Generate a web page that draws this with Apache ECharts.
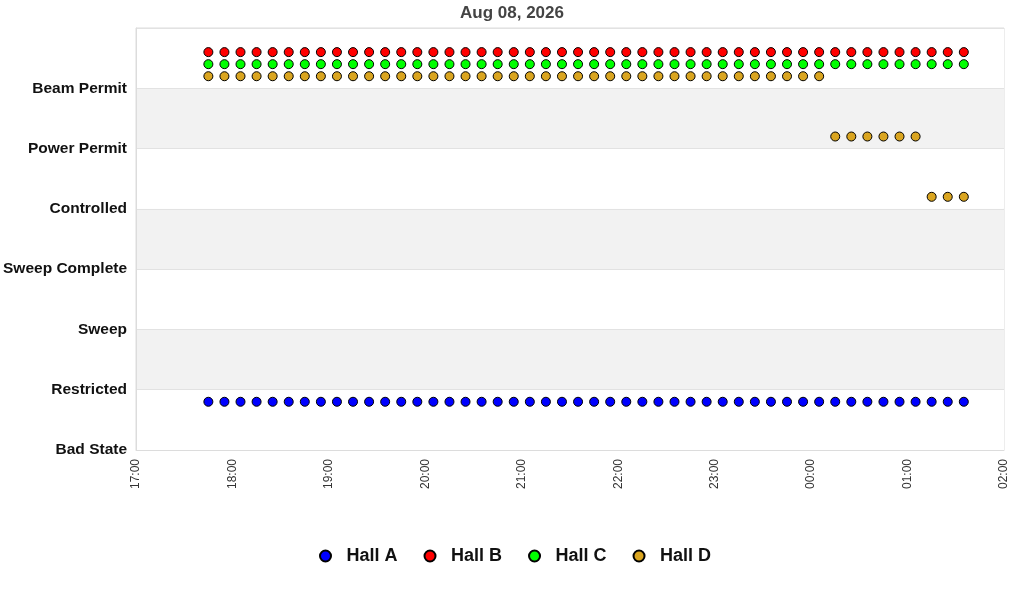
<!DOCTYPE html>
<html>
<head>
<meta charset="utf-8">
<title>Hall states</title>
<script src="https://cdn.jsdelivr.net/npm/echarts@6/dist/echarts.min.js"></script>
<style>
  html, body { margin: 0; padding: 0; background: #fff; }
  #chart { width: 1024px; height: 600px; }
</style>
</head>
<body>
<div id="chart"></div>
<script>
// state names, index = y level on the axis
const states = ['Bad State', 'Restricted', 'Sweep', 'Sweep Complete', 'Controlled', 'Power Permit', 'Beam Permit']

const chartTitle = 'Aug 08, 2026'
const halls = ['Hall A', 'Hall B', 'Hall C', 'Hall D']

// sample times (every 10 min)
const times = [
  '2026-08-08 17:45', '2026-08-08 17:55', '2026-08-08 18:05', '2026-08-08 18:15', '2026-08-08 18:25', '2026-08-08 18:35',
  '2026-08-08 18:45', '2026-08-08 18:55', '2026-08-08 19:05', '2026-08-08 19:15', '2026-08-08 19:25', '2026-08-08 19:35',
  '2026-08-08 19:45', '2026-08-08 19:55', '2026-08-08 20:05', '2026-08-08 20:15', '2026-08-08 20:25', '2026-08-08 20:35',
  '2026-08-08 20:45', '2026-08-08 20:55', '2026-08-08 21:05', '2026-08-08 21:15', '2026-08-08 21:25', '2026-08-08 21:35',
  '2026-08-08 21:45', '2026-08-08 21:55', '2026-08-08 22:05', '2026-08-08 22:15', '2026-08-08 22:25', '2026-08-08 22:35',
  '2026-08-08 22:45', '2026-08-08 22:55', '2026-08-08 23:05', '2026-08-08 23:15', '2026-08-08 23:25', '2026-08-08 23:35',
  '2026-08-08 23:45', '2026-08-08 23:55', '2026-08-09 00:05', '2026-08-09 00:15', '2026-08-09 00:25', '2026-08-09 00:35',
  '2026-08-09 00:45', '2026-08-09 00:55', '2026-08-09 01:05', '2026-08-09 01:15', '2026-08-09 01:25', '2026-08-09 01:35'
]

// state index per time, one array per hall
const hallA = [
  1, 1, 1, 1, 1, 1, 1, 1, 1, 1, 1, 1, 1, 1, 1, 1, 1, 1, 1, 1, 1, 1, 1, 1,
  1, 1, 1, 1, 1, 1, 1, 1, 1, 1, 1, 1, 1, 1, 1, 1, 1, 1, 1, 1, 1, 1, 1, 1
]
const hallB = [
  6, 6, 6, 6, 6, 6, 6, 6, 6, 6, 6, 6, 6, 6, 6, 6, 6, 6, 6, 6, 6, 6, 6, 6,
  6, 6, 6, 6, 6, 6, 6, 6, 6, 6, 6, 6, 6, 6, 6, 6, 6, 6, 6, 6, 6, 6, 6, 6
]
const hallC = [
  6, 6, 6, 6, 6, 6, 6, 6, 6, 6, 6, 6, 6, 6, 6, 6, 6, 6, 6, 6, 6, 6, 6, 6,
  6, 6, 6, 6, 6, 6, 6, 6, 6, 6, 6, 6, 6, 6, 6, 6, 6, 6, 6, 6, 6, 6, 6, 6
]
const hallD = [
  6, 6, 6, 6, 6, 6, 6, 6, 6, 6, 6, 6, 6, 6, 6, 6, 6, 6, 6, 6, 6, 6, 6, 6,
  6, 6, 6, 6, 6, 6, 6, 6, 6, 6, 6, 6, 6, 6, 6, 5, 5, 5, 5, 5, 5, 4, 4, 4
]

const xMin = '2026-08-08 17:00'
const xMax = '2026-08-09 02:00'

const font = 'Liberation Sans, Arial, sans-serif'

// each hall sits at its own height inside a state band
function makeSeries(name, values, color, shift) {
  return {
    name: name,
    type: 'scatter',
    symbol: 'circle',
    symbolSize: 9,
    itemStyle: { color: color, borderColor: '#000', borderWidth: 1, opacity: 1 },
    data: values.map((v, i) => [times[i], v + shift])
  }
}

const myChart = echarts.init(document.getElementById('chart'))
const option = {
  animation: false,
  backgroundColor: '#fff',
  title: {
    text: chartTitle,
    left: 'center',
    top: 0,
    textStyle: { fontFamily: font, fontSize: 17, fontWeight: 'bold', color: '#444' }
  },
  legend: {
    data: halls,
    bottom: 30,
    left: 314,
    icon: 'circle',
    itemWidth: 32,
    itemHeight: 11,
    itemGap: 26,
    textStyle: { fontFamily: font, fontSize: 18, fontWeight: 'bold', color: '#111' }
  },
  grid: {
    left: 136,
    right: 20,
    top: 28,
    bottom: 150,
    show: true,
    borderColor: '#dcdcdc',
    borderWidth: 1,
    containLabel: false
  },
  xAxis: {
    type: 'time',
    min: xMin,
    max: xMax,
    interval: 3600 * 1000,
    minInterval: 3600 * 1000,
    maxInterval: 3600 * 1000,
    axisLine: { show: true, lineStyle: { color: '#dcdcdc' } },
    axisTick: { show: false },
    splitLine: { show: false },
    axisLabel: {
      rotate: 90,
      margin: 9,
      fontFamily: font,
      fontSize: 12,
      color: '#333',
      showMinLabel: true,
      showMaxLabel: true,
      formatter: '{HH}:{mm}'
    }
  },
  yAxis: {
    type: 'value',
    min: 0,
    max: 7,
    interval: 1,
    axisLine: { show: true, lineStyle: { color: '#dcdcdc' } },
    axisTick: { show: false },
    splitLine: { show: true, lineStyle: { color: '#e2e2e2' } },
    splitArea: { show: true, areaStyle: { color: ['#ffffff', '#f2f2f2'] } },
    axisLabel: {
      margin: 9,
      fontFamily: font,
      fontSize: 15.5,
      fontWeight: 'bold',
      color: '#111',
      formatter: function(v) { return states[v] || '' }
    }
  },
  series: [
    makeSeries('Hall A', hallA, '#0000ff', -0.2),
    makeSeries('Hall B', hallB, '#ff0000', 0.6),
    makeSeries('Hall C', hallC, '#00ff00', 0.4),
    makeSeries('Hall D', hallD, '#daa520', 0.2)
  ]
}
myChart.setOption(option)
</script>
</body>
</html>
